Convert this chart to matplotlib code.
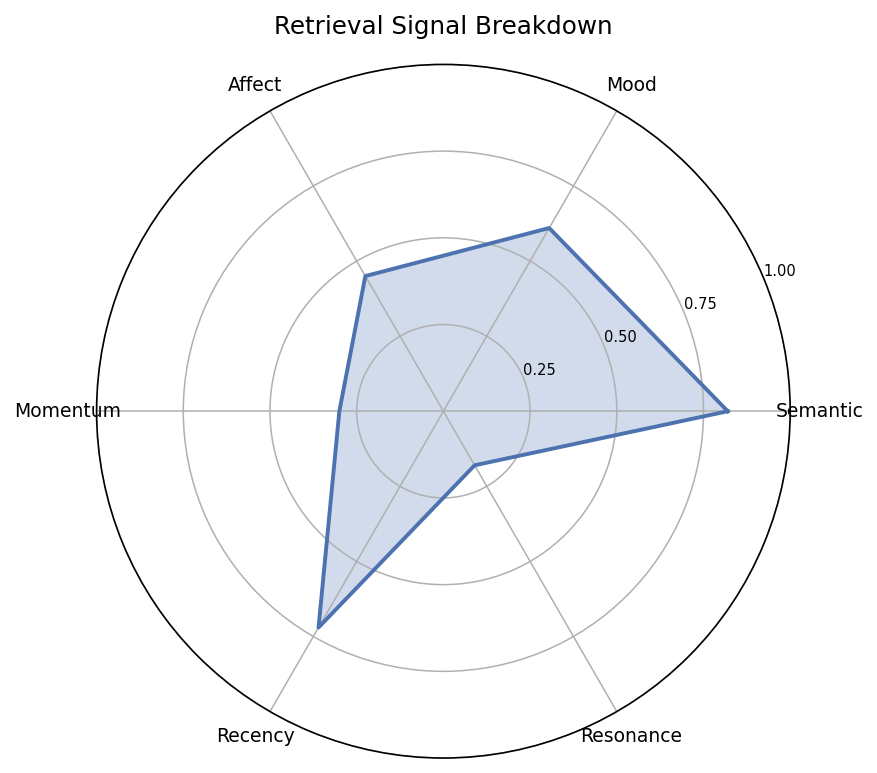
import numpy as np
from matplotlib import pyplot as plt

categories = ["Semantic", "Mood", "Affect", "Momentum", "Recency", "Resonance"]
values = [0.82, 0.61, 0.45, 0.30, 0.72, 0.18]
rticks = [0.25, 0.50, 0.75, 1.00]
rtick_labels = ["0.25", "0.50", "0.75", "1.00"]

angles = np.linspace(0, 2 * np.pi, len(categories), endpoint=False)
ang_closed = np.concatenate([angles, angles[:1]])
val_closed = values + values[:1]

fig = plt.figure(figsize=(8.78, 7.73), dpi=100)
ax = fig.add_axes([0.110, 0.019, 0.790, 0.898], polar=True)

ax.plot(ang_closed, val_closed, color="#4c72b0", linewidth=2.8)
ax.fill(ang_closed, val_closed, color="#4c72b0", alpha=0.25)

ax.set_ylim(0, 1.0)
ax.set_yticks(rticks)
ax.set_yticklabels(rtick_labels, fontsize=10.5)
ax.set_rlabel_position(22.5)
ax.set_xticks(angles)
ax.set_xticklabels(categories, fontsize=13.5)
ax.tick_params(axis="x", pad=10.5)
ax.grid(color="#b0b0b0", linewidth=1.1)
ax.spines["polar"].set_linewidth(1.2)

ax.set_title("Retrieval Signal Breakdown", fontsize=17.7, pad=22)

fig.savefig("out.png", dpi=100)
